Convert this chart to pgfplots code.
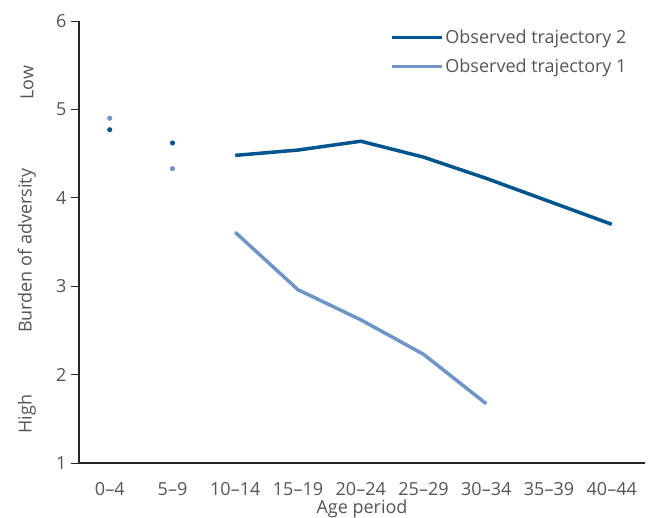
\documentclass[border=0pt]{standalone}
\usepackage{fontspec}
\setmainfont{Open Sans}
\usepackage{pgfplots}
\pgfplotsset{compat=1.18}
\definecolor{trajdark}{HTML}{00558F}
\definecolor{trajlight}{HTML}{6F95C6}
\definecolor{txt}{HTML}{555555}
\newcommand{\lblfont}{\fontsize{18}{20}\selectfont}
\begin{document}
\begin{tikzpicture}[x=1pt,y=1pt]
\path[use as bounding box] (-79,-55) rectangle (569,463);
\begin{axis}[
    at={(0,0)}, anchor=south west,
    scale only axis,
    width=566pt, height=442pt,
    xmin=-0.49, xmax=8.53,
    ymin=1, ymax=6,
    axis x line*=bottom,
    axis y line*=left,
    axis line style={line width=1.4pt, color=black!85},
    xtick={0,...,8},
    xticklabels={0--4,5--9,10--14,15--19,20--24,25--29,30--34,35--39,40--44},
    x tick style={draw=none},
    ytick={1,...,6},
    y tick style={line width=0.8pt, color=black!85},
    tick align=outside,
    major tick length=8pt,
    tick label style={font=\lblfont, text=txt},
    /pgf/number format/assume math mode=true,
    xticklabel style={anchor=center, yshift=-18pt},
    yticklabel style={xshift=-1pt},
    xlabel={Age period},
    xlabel style={font=\lblfont, text=txt, anchor=center, at={(rel axis cs:0.5,0)}, yshift=-46pt},
    legend style={at={(0.549,0.985)}, anchor=north west, draw=none, fill=none,
        font=\lblfont, text=txt, row sep=10pt, inner sep=0pt,
        /tikz/every even column/.append style={column sep=14pt}},
    legend cell align=left,
    legend image code/.code={\draw[#1, line width=3.5pt] (0pt,0pt) -- (50pt,0pt);},
    clip=false,
]
\addplot[trajdark, line width=3.5pt] coordinates {
    (2,4.48) (3,4.54) (4,4.64) (5,4.46) (6,4.22) (7,3.96) (8,3.70)
};
\addlegendentry{Observed trajectory 2}
\addplot[trajlight, line width=3.5pt] coordinates {
    (2,3.61) (3,2.96) (4,2.62) (5,2.23) (6,1.67)
};
\addlegendentry{Observed trajectory 1}
\addplot[only marks, mark=*, mark size=2.3pt, trajdark, forget plot] coordinates {
    (0,4.77) (1,4.62)
};
\addplot[only marks, mark=*, mark size=2.3pt, trajlight, forget plot] coordinates {
    (0,4.90) (1,4.33)
};
\node[rotate=90, text=txt, font=\lblfont] at ([xshift=-52pt]rel axis cs:0,0.86) {Low};
\node[rotate=90, text=txt, font=\lblfont] at ([xshift=-52pt]rel axis cs:0,0.48) {Burden of adversity};
\node[rotate=90, text=txt, font=\lblfont] at ([xshift=-52pt]rel axis cs:0,0.111) {High};
\end{axis}
\end{tikzpicture}
\end{document}
